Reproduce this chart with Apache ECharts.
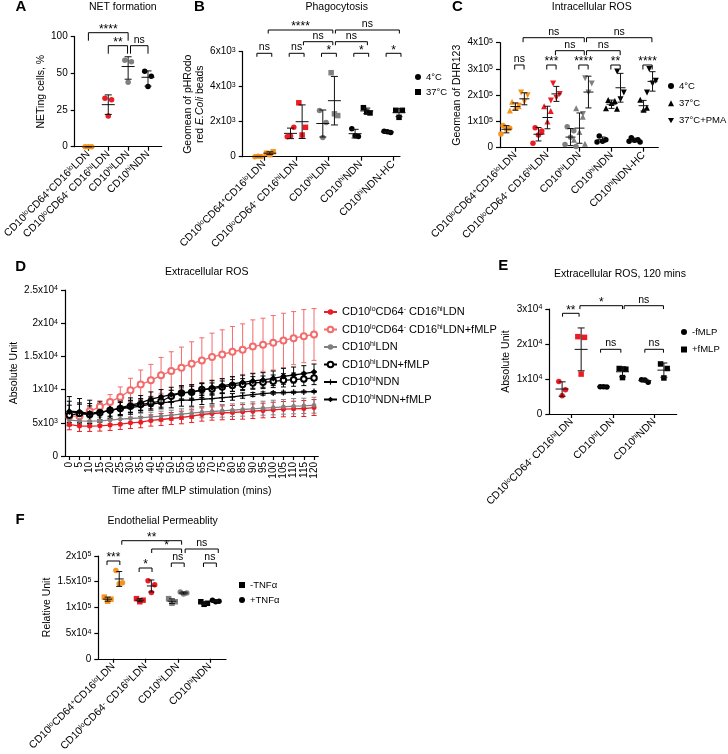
<!DOCTYPE html>
<html><head><meta charset="utf-8">
<script src="https://cdn.jsdelivr.net/npm/echarts@6/dist/echarts.min.js"></script>
<style>html,body{margin:0;padding:0;background:#fff}#c{width:728px;height:754px}</style>
</head><body><div id="c"></div>
<script>
// ================= DATA =================
// A: NET formation (%)
const catA = ['CD10{s|lo}CD64{s|+}CD16{s|lo}LDN', 'CD10{s|lo}CD64{s|-} CD16{s|hi}LDN', 'CD10{s|hi}LDN', 'CD10{s|hi}NDN'];
const netA = [[0, 0, 0], [33, 32, 21], [68, 66, 44], [53, 48, 41]];
const ticksA = ['0', '25', '50', '100'];

// B: Phagocytosis
const catB = ['CD10{s|lo}CD64{s|+}CD16{s|lo}LDN', 'CD10{s|lo}CD64{s|-} CD16{s|hi}LDN', 'CD10{s|hi}LDN', 'CD10{s|hi}NDN', 'CD10{s|hi}NDN-HC'];
const phago4 = [[0, 10, 20], [1140, 1680, 1180], [2640, 1950, 1100], [1600, 1150, 1200], [1450, 1380, 1420]];
const phago37 = [[200, 280, 120], [3080, 1680, 1240], [4800, 2350, 2450], [2800, 2500, 2550], [2650, 2650, 2250]];
const ticksB = ['0', '2x10{s|3}', '4x10{s|3}', '6x10{s|3}'];

// C: Intracellular ROS
const catC = catB;
const ros4 = [[85000, 74000, 70000, 52000], [76000, 64000, 48000, 17000], [80000, 65000, 40000, 12000, 5000], [45000, 30000, 25000, 22000], [38000, 30000, 28000, 25000, 22000]];
const ros37 = [[175000, 158000, 152000, 142000], [158000, 140000, 100000, 62000], [150000, 118000, 60000, 30000, 15000], [182000, 178000, 170000, 150000, 148000], [183000, 152000, 145000]];
const rosPMA = [[210000, 200000, 175000, 160000], [245000, 205000, 190000, 180000], [265000, 245000, 210000, 128000], [290000, 210000, 185000], [300000, 255000, 245000, 210000]];
const ticksC = ['0', '1x10{s|5}', '2x10{s|5}', '3x10{s|5}', '4x10{s|5}'];

// D: Extracellular ROS time course
const timeD = [0, 5, 10, 15, 20, 25, 30, 35, 40, 45, 50, 55, 60, 65, 70, 75, 80, 85, 90, 95, 100, 105, 110, 115, 120];
const dLo = [4750, 4500, 4500, 4550, 4650, 4800, 5000, 5100, 5350, 5500, 5650, 5800, 6000, 6250, 6400, 6500, 6550, 6650, 6750, 6850, 6950, 7050, 7100, 7150, 7300];
const dLoSd = [800, 800, 800, 800, 800, 800, 850, 850, 850, 900, 900, 950, 950, 1000, 1000, 1050, 1050, 1100, 1100, 1100, 1150, 1150, 1150, 1200, 1200];
const dLoF = [6000, 6000, 6750, 7400, 8150, 8900, 9900, 10750, 11400, 12150, 12800, 13300, 13900, 14400, 14900, 15300, 15700, 16000, 16500, 16750, 17050, 17400, 17750, 18050, 18300];
const dLoFSd = [300, 300, 600, 900, 1100, 1500, 1800, 2200, 2400, 2700, 2900, 3100, 3300, 3400, 3600, 3700, 3800, 3900, 4000, 4000, 4100, 4100, 4000, 4000, 3900];
const dHiL = [5400, 5300, 5250, 5300, 5400, 5550, 5650, 5750, 5900, 6000, 6150, 6300, 6450, 6600, 6700, 6800, 6900, 7000, 7100, 7200, 7300, 7400, 7500, 7550, 7650];
const dHiLSd = [500, 500, 500, 550, 550, 600, 650, 700, 700, 750, 750, 800, 800, 850, 900, 950, 950, 1000, 1050, 1050, 1100, 1100, 1150, 1150, 1200];
const dHiLF = [6150, 6400, 6250, 6500, 6900, 7150, 7500, 7750, 8000, 8250, 9000, 9500, 9600, 10000, 10100, 10400, 10600, 10750, 11000, 11100, 11250, 11400, 11500, 11600, 11750];
const dHiLFSd = [1500, 1400, 1300, 1000, 900, 900, 900, 900, 900, 900, 900, 900, 900, 900, 900, 900, 900, 900, 950, 950, 950, 1000, 1000, 1000, 1000];
const dHiN = [6650, 6500, 6400, 6500, 6900, 7150, 7300, 7500, 7800, 8000, 8150, 8400, 8400, 8550, 8650, 8800, 8900, 9100, 9250, 9400, 9500, 9550, 9600, 9650, 9700];
const dHiNSd = [1600, 1500, 1500, 1400, 1200, 1100, 1000, 900, 900, 900, 900, 900, 900, 800, 800, 600, 500, 400, 300, 250, 200, 200, 150, 150, 150];
const dHiNF = [6750, 6650, 6400, 6650, 6800, 7250, 7650, 8000, 8550, 8900, 9250, 9500, 9650, 9900, 10300, 10550, 10850, 11100, 11300, 11450, 11700, 12000, 12200, 12400, 12650];
const dHiNFSd = [2200, 2000, 2000, 1500, 1200, 1100, 1100, 1100, 1100, 1100, 1100, 1100, 1100, 1100, 1100, 1100, 1100, 1100, 1100, 1100, 1100, 1200, 1200, 1200, 1200];
const namesD = ['CD10{s|lo}CD64{s|-} CD16{s|hi}LDN', 'CD10{s|lo}CD64{s|-} CD16{s|hi}LDN+fMLP', 'CD10{s|hi}LDN', 'CD10{s|hi}LDN+fMLP', 'CD10{s|hi}NDN', 'CD10{s|hi}NDN+fMLP'];
const ticksD = ['0', '5x10{s|3}', '1x10{s|4}', '1.5x10{s|4}', '2x10{s|4}', '2.5x10{s|4}'];

// E: Extracellular ROS, 120 mins
const catE = ['CD10{s|lo}CD64{s|-} CD16{s|hi}LDN', 'CD10{s|hi}LDN', 'CD10{s|hi}NDN'];
const eMinus = [[9300, 6900, 5200], [7800, 7750, 7800], [9800, 9100, 9700]];
const ePlus = [[22100, 21900, 11400], [13000, 12800, 10400], [14300, 13000, 10300]];
const ticksE = ['0', '1x10{s|4}', '2x10{s|4}', '3x10{s|4}'];

// F: Endothelial permeability
const catF = catA;
const fMinus = [[120000, 116000, 112000], [117000, 114000, 111000], [117000, 111000, 108000], [111000, 108000, 106000]];
const fPlus = [[172000, 148000, 146000], [152000, 144000, 129000], [130000, 128000, 126000], [114000, 112000, 111000]];
const ticksF = ['0', '5x10{s|4}', '1x10{s|5}', '1.5x10{s|5}', '2x10{s|5}'];

// ================= STYLE / LAYOUT =================
const FONT = '"Liberation Sans", Arial, Helvetica, sans-serif';
const OR = '#f7941d', RD = '#ed1c24', GY = '#808080', BK = '#000000', PK = '#f36b6b';
const SUP = {fontSize: 7, verticalAlign: 'top', fontFamily: FONT, color: '#000', lineHeight: 9};
const JIT = [-3.3, 3.3, 0, -5.5, 5.5];
const INV_TRI = 'path://M0,0L10,0L5,9Z';

// brackets: [x1, x2, label, yPixel]
const brA = [[0, 2, '****', 32.7], [1, 1.97, '**', 45.7], [2.12, 3, 'ns', 45.7]];
const brB = [[-0.22, 0.24, 'ns', 53.3], [0.78, 1.24, 'ns', 53.3], [1.78, 2.24, '*', 53.3], [2.78, 3.24, '*', 53.3], [3.78, 4.24, '*', 53.3],
  [1.22, 2.13, 'ns', 41.7], [2.21, 3.2, 'ns', 41.7], [0.13, 2.13, '****', 30], [2.21, 4.19, 'ns', 30]];
const brC = [[-0.02, 0.27, 'ns', 65], [0.98, 1.27, '***', 65], [1.98, 2.27, '****', 65], [2.98, 3.27, '**', 65], [3.98, 4.27, '****', 65],
  [1.25, 2.15, 'ns', 50.7], [2.22, 3.27, 'ns', 50.7], [0.24, 2.15, 'ns', 37.7], [2.22, 4.26, 'ns', 37.7]];
const brE = [[-0.22, 0.18, '**', 313.3], [0.7, 1.19, 'ns', 349.3], [1.77, 2.22, 'ns', 349.3], [0.2, 1.23, '*', 305.7], [1.27, 2.22, 'ns', 305.7]];
const brF = [[0.26, 2.12, '**', 540.7], [1.19, 2.12, '*', 549], [2.23, 3.26, 'ns', 549],
  [-0.2, 0.2, '***', 561], [0.8, 1.2, '*', 568], [1.8, 2.2, 'ns', 563], [2.8, 3.2, 'ns', 563]];

// ================= HELPERS =================
const mean = a => a.reduce((s, v) => s + v, 0) / a.length;
const sdev = a => { const m = mean(a); return Math.sqrt(a.reduce((s, v) => s + (v - m) * (v - m), 0) / (a.length - 1)); };
const tA = v => v <= 50 ? v : 50 + (v - 50) / 2; // segmented axis (0-50 full, 50-100 half scale)
const ident = v => v;

const grids = [], xAxes = [], yAxes = [], series = [], legends = [], graphics = [];

function addGrid(l, t, w, h) { grids.push({left: l, top: t, width: w, height: h, containLabel: false}); return grids.length - 1; }

function catX(gi, cats, min, max) {
  const vals = cats.map((_, k) => k);
  xAxes.push({gridIndex: gi, type: 'value', min, max,
    axisLine: {show: true, onZero: false, lineStyle: {color: '#000', width: 1.2}},
    axisTick: {show: true, customValues: vals, length: 4, lineStyle: {color: '#000', width: 1.2}},
    axisLabel: {show: true, customValues: vals, rotate: 45, margin: 6, fontSize: 10.5, fontFamily: FONT, color: '#000',
      formatter: v => cats[Math.round(v)] || '', rich: {s: SUP}},
    splitLine: {show: false}});
}
function valY(gi, min, max, interval, labels, name, gap) {
  yAxes.push({gridIndex: gi, type: 'value', min, max, interval,
    axisLine: {show: true, onZero: false, lineStyle: {color: '#000', width: 1.2}},
    axisTick: {show: true, length: 4, lineStyle: {color: '#000', width: 1.2}},
    axisLabel: {fontSize: 10, fontFamily: FONT, color: '#000', margin: 7,
      formatter: v => labels[Math.round((v - min) / interval)] || '', rich: {s: SUP}},
    splitLine: {show: false},
    name, nameLocation: 'middle', nameGap: gap, nameRotate: 90,
    nameTextStyle: {fontSize: 10.5, fontFamily: FONT, color: '#000', lineHeight: 12,
      rich: {i: {fontStyle: 'italic', fontSize: 10.5, fontFamily: FONT, color: '#000'}}}});
}
function scatter(gi, x, vals, color, symbol, size, tf, name) {
  series.push({type: 'scatter', name: name || ('s' + series.length), xAxisIndex: gi, yAxisIndex: gi, clip: false, silent: true, z: 2,
    symbol, symbolSize: size, itemStyle: {color, opacity: 1},
    data: vals.map((v, k) => ({value: [x, tf(v)], symbolOffset: [JIT[k % JIT.length], 0]}))});
}
function errBars(gi, items, capW, meanW, tf, z) {
  series.push({type: 'custom', xAxisIndex: gi, yAxisIndex: gi, clip: false, silent: true, z: z || 3,
    data: items.map(it => [it.x, it.m, it.s]),
    renderItem: (p, api) => {
      const it = items[p.dataIndex];
      const x = api.value(0), m = api.value(1), s = api.value(2);
      const c = api.coord([x, tf(m)]), t = api.coord([x, tf(m + s)]), b = api.coord([x, tf(Math.max(0, m - s))]);
      const st = {stroke: it.color || '#111', lineWidth: 1, fill: null};
      const ch = [
        {type: 'line', shape: {x1: c[0], y1: t[1], x2: c[0], y2: b[1]}, style: st},
        {type: 'line', shape: {x1: c[0] - capW / 2, y1: t[1], x2: c[0] + capW / 2, y2: t[1]}, style: st},
        {type: 'line', shape: {x1: c[0] - capW / 2, y1: b[1], x2: c[0] + capW / 2, y2: b[1]}, style: st}];
      if (meanW > 0) ch.push({type: 'line', shape: {x1: c[0] - meanW / 2, y1: c[1], x2: c[0] + meanW / 2, y2: c[1]}, style: st});
      return {type: 'group', children: ch};
    }});
}
function brackets(gi, list, leg) {
  series.push({type: 'custom', xAxisIndex: gi, yAxisIndex: gi, clip: false, silent: true, z: 5,
    data: list.map(b => [b[0], b[1], 0]), encode: {x: [0, 1], y: 2},
    renderItem: (p, api) => {
      const b = list[p.dataIndex];
      const x1 = api.coord([api.value(0), 0])[0], x2 = api.coord([api.value(1), 0])[0];
      const y = b[3];
      const star = b[2].indexOf('*') >= 0;
      return {type: 'group', children: [
        {type: 'polyline', shape: {points: [[x1, y + leg], [x1, y], [x2, y], [x2, y + leg]]}, style: {stroke: '#000', lineWidth: 1, fill: null}},
        {type: 'text', x: (x1 + x2) / 2, y: star ? y + 3 : y - 0.5,
          style: {text: b[2], align: 'center', verticalAlign: 'bottom', fontSize: star ? 12 : 10.5, fontFamily: FONT, fill: '#000'}}]};
    }});
}
function groupPanel(gi, groups, colors, subs, tf, capW, meanW) {
  const items = [];
  subs.forEach((sb, j) => {
    groups[j].forEach((vals, g) => {
      scatter(gi, g + sb.off, vals, colors[g], sb.symbol, sb.size, tf, sb.names ? sb.names[g] : null);
      items.push({x: g + sb.off, m: mean(vals), s: sdev(vals), color: '#111'});
    });
  });
  errBars(gi, items, capW, meanW, tf);
}
function text(x, y, t, size, weight, align) {
  graphics.push({type: 'text', x, y, silent: true,
    style: {text: t, fontSize: size, fontWeight: weight || 'normal', fontFamily: FONT, fill: '#000', align: align || 'center', verticalAlign: 'middle'}});
}
const LEG_TEXT = {fontSize: 9.5, fontFamily: FONT, color: '#000'};

// ================= PANEL A =================
let gi = addGrid(72.7, 36.7, 89, 110);
catX(gi, catA, -0.69, 3.69);
valY(gi, 0, 75, 25, ticksA, 'NETing cells, %', 24);
groupPanel(gi, [netA], [OR, RD, GY, BK], [{off: 0, symbol: 'circle', size: 5.5}], tA, 7, 13);
brackets(gi, brA, 8);

// ================= PANEL B =================
gi = addGrid(242.7, 51.7, 157.3, 105);
catX(gi, catB, -0.66, 4.21);
valY(gi, 0, 6000, 2000, ticksB, 'Geomean of pHRodo\nred {i|E.Coli} beads', 20);
groupPanel(gi, [phago4, phago37], [OR, RD, GY, BK, BK],
  [{off: -0.18, symbol: 'circle', size: 5.5, names: [null, null, null, null, 'B4']},
   {off: 0.18, symbol: 'rect', size: 5.5, names: [null, null, null, null, 'B37']}], ident, 7, 13);
brackets(gi, brB, 3.5);
legends.push({orient: 'vertical', left: 415, top: 72, padding: 0, itemWidth: 6, itemHeight: 6, itemGap: 5,
  data: ['B4', 'B37'], formatter: n => ({B4: '4°C', B37: '37°C'})[n], textStyle: LEG_TEXT});

// ================= PANEL C =================
gi = addGrid(500, 42.7, 158.3, 105);
catX(gi, catC, -0.48, 4.46);
valY(gi, 0, 400000, 100000, ticksC, 'Geomean of DHR123', 34);
groupPanel(gi, [ros4, ros37, rosPMA], [OR, RD, GY, BK, BK],
  [{off: -0.28, symbol: 'circle', size: 5.5, names: [null, null, null, null, 'C4']},
   {off: 0, symbol: 'triangle', size: 6, names: [null, null, null, null, 'C37']},
   {off: 0.28, symbol: INV_TRI, size: 6, names: [null, null, null, null, 'CPMA']}], ident, 6, 10);
brackets(gi, brC, 4.5);
legends.push({orient: 'vertical', left: 668, top: 81, padding: 0, itemWidth: 6, itemHeight: 6, itemGap: 7.3,
  data: ['C4', 'C37', 'CPMA'], formatter: n => ({C4: '4°C', C37: '37°C', CPMA: '37°C+PMA'})[n], textStyle: LEG_TEXT});

// ================= PANEL D =================
gi = addGrid(65, 290, 253.3, 166);
xAxes.push({gridIndex: gi, type: 'value', min: -2.1, max: 122.1,
  axisLine: {show: true, onZero: false, lineStyle: {color: '#000', width: 1.2}},
  axisTick: {show: true, customValues: timeD, length: 4, lineStyle: {color: '#000', width: 1.2}},
  axisLabel: {show: true, customValues: timeD, rotate: 90, margin: 6, fontSize: 10, fontFamily: FONT, color: '#000'},
  splitLine: {show: false},
  name: 'Time after fMLP stimulation (mins)', nameLocation: 'middle', nameGap: 30,
  nameTextStyle: {fontSize: 10.5, fontFamily: FONT, color: '#000'}});
valY(gi, 0, 25000, 5000, ticksD, 'Absolute Unit', 43);
const dSets = [
  {v: dLoF, s: dLoFSd, c: PK, sym: 'emptyCircle', size: 6},
  {v: dLo, s: dLoSd, c: RD, sym: 'circle', size: 5},
  {v: dHiL, s: dHiLSd, c: GY, sym: 'circle', size: 4.5},
  {v: dHiLF, s: dHiLFSd, c: BK, sym: 'emptyCircle', size: 5.5},
  {v: dHiN, s: dHiNSd, c: BK, sym: 'path://M4,0H6V4H10V6H6V10H4V6H0V4H4Z', size: 6},
  {v: dHiNF, s: dHiNFSd, c: BK, sym: 'diamond', size: 6.5}];
const dNameIdx = [1, 0, 2, 3, 4, 5];
dSets.forEach((d, k) => {
  errBars(gi, timeD.map((t, i) => ({x: t, m: d.v[i], s: d.s[i], color: d.c})), 5, 0, ident, 2);
  series.push({type: 'line', name: 'D' + dNameIdx[k], xAxisIndex: gi, yAxisIndex: gi, clip: false, silent: true, z: 3,
    data: timeD.map((t, i) => [t, d.v[i]]), symbol: d.sym, symbolSize: d.size,
    lineStyle: {color: d.c, width: 1.3}, itemStyle: {color: d.c, borderWidth: 1.1}});
});
legends.push({orient: 'vertical', left: 323, top: 306, padding: 0, itemWidth: 13, itemHeight: 7, itemGap: 5.5,
  data: ['D0', 'D1', 'D2', 'D3', 'D4', 'D5'], formatter: n => namesD[+n.slice(1)],
  textStyle: {fontSize: 11, fontFamily: FONT, color: '#000', lineHeight: 12, rich: {s: SUP}}});

// ================= PANEL E =================
gi = addGrid(549.3, 309, 127.4, 105);
catX(gi, catE, -0.54, 2.54);
valY(gi, 0, 30000, 10000, ticksE, 'Absolute Unit', 37);
groupPanel(gi, [eMinus, ePlus], [RD, BK, BK],
  [{off: -0.23, symbol: 'circle', size: 5.5, names: [null, null, 'E-']},
   {off: 0.23, symbol: 'rect', size: 5.5, names: [null, null, 'E+']}], ident, 7, 13);
brackets(gi, brE, 3.4);
legends.push({orient: 'vertical', left: 681, top: 327, padding: 0, itemWidth: 6, itemHeight: 6, itemGap: 7.5,
  data: ['E-', 'E+'], formatter: n => ({'E-': '-fMLP', 'E+': '+fMLP'})[n], textStyle: LEG_TEXT});

// ================= PANEL F =================
gi = addGrid(98.3, 556, 127.7, 105.7);
catX(gi, catF, -0.47, 3.5);
valY(gi, 0, 200000, 50000, ticksF, 'Relative Unit', 43);
groupPanel(gi, [fMinus, fPlus], [OR, RD, GY, BK],
  [{off: -0.18, symbol: 'rect', size: 5.5, names: [null, null, null, 'F-']},
   {off: 0.18, symbol: 'circle', size: 5.5, names: [null, null, null, 'F+']}], ident, 6, 9);
brackets(gi, brF, 4);
legends.push({orient: 'vertical', left: 239, top: 580, padding: 0, itemWidth: 6, itemHeight: 6, itemGap: 5,
  data: ['F-', 'F+'], formatter: n => ({'F-': '-TNFα', 'F+': '+TNFα'})[n], textStyle: LEG_TEXT});

// ================= TITLES & LETTERS =================
text(122.8, 7, 'NET formation', 10.5);
text(336.7, 7, 'Phagocytosis', 10.5);
text(591.7, 7, 'Intracellular ROS', 10.5);
text(206.7, 272, 'Extracellular ROS', 10.5);
text(620, 274, 'Extracellular ROS, 120 mins', 10.5);
text(162.7, 521, 'Endothelial Permeablity', 10.5);
text(21, 7, 'A', 15, 'bold');
text(199.3, 7, 'B', 15, 'bold');
text(457.3, 7, 'C', 15, 'bold');
text(20.7, 267, 'D', 15, 'bold');
text(503.3, 266, 'E', 15, 'bold');
text(20, 520, 'F', 15, 'bold');

const chart = echarts.init(document.getElementById('c'), null, {renderer: 'canvas'});
chart.setOption({animation: false, backgroundColor: '#fff', textStyle: {fontFamily: FONT},
  grid: grids, xAxis: xAxes, yAxis: yAxes, series, legend: legends, graphic: graphics});
</script></body></html>
